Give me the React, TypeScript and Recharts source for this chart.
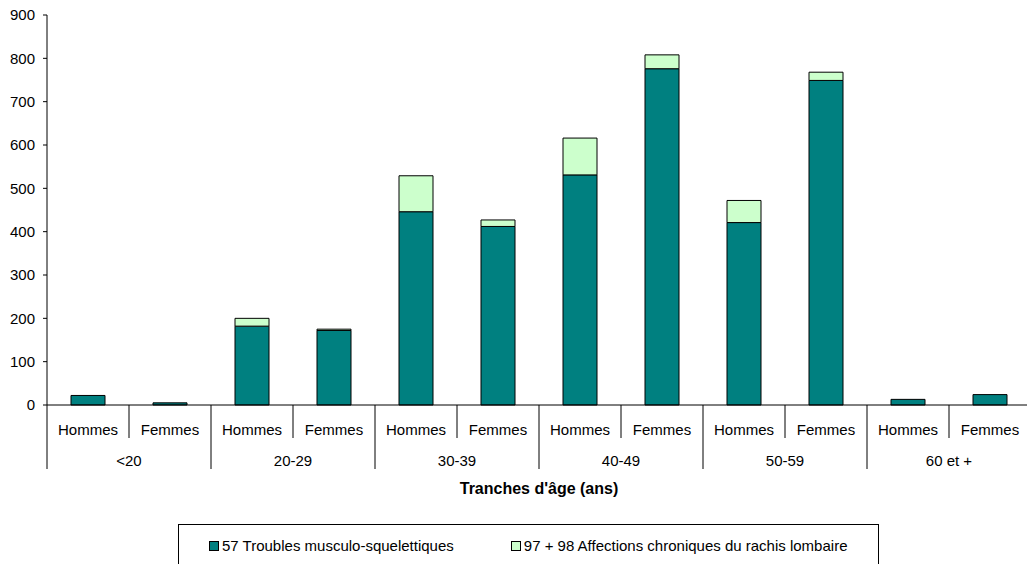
import { BarChart, Bar, XAxis, YAxis } from 'recharts'

const sexes = ['Hommes', 'Femmes', 'Hommes', 'Femmes', 'Hommes', 'Femmes', 'Hommes', 'Femmes', 'Hommes', 'Femmes', 'Hommes', 'Femmes']
const ages = ['<20', '<20', '20-29', '20-29', '30-39', '30-39', '40-49', '40-49', '50-59', '50-59', '60 et +', '60 et +']
const troubles = [22, 5, 182, 172, 446, 412, 531, 776, 421, 749, 13, 24]
const affections = [0, 0, 18, 3, 83, 15, 85, 32, 51, 19, 0, 0]
const yTicks = [0, 100, 200, 300, 400, 500, 600, 700, 800, 900]

const data = sexes.map((s, i) => ({ sexe: s, age: ages[i], troubles: troubles[i], affections: affections[i] }))

const FONT = '"Liberation Sans", Arial, sans-serif'
const CHART_W = 1040
const MARGIN = { top: 15, right: 9, bottom: 49, left: 0 }
const Y_W = 47
const BAND = (CHART_W - MARGIN.left - MARGIN.right - Y_W) / data.length
const TICK_OFFSET = 8 // default tickSize + tickMargin below the axis line

// two-level category axis: sex labels, age groups, and separators
const CategoryTick = ({ x, y, index, payload }: any) => {
  const left = x - BAND / 2
  const top = y - TICK_OFFSET
  const groupStart = index % 2 === 0
  return (
    <g>
      <line x1={left} y1={top} x2={left} y2={top + (groupStart ? 64 : 33)} stroke="#000" strokeWidth={1} />
      <text x={x} y={y + 22} textAnchor="middle" fontSize={15} fontFamily={FONT} fill="#000">
        {payload.value}
      </text>
      {groupStart && (
        <text x={x + BAND / 2} y={y + 53} textAnchor="middle" fontSize={15} fontFamily={FONT} fill="#000">
          {ages[index]}
        </text>
      )}
      {index === data.length - 1 && (
        <line x1={x + BAND / 2} y1={top} x2={x + BAND / 2} y2={top + 64} stroke="#000" strokeWidth={1} />
      )}
    </g>
  )
}

export default function App() {
  return (
    <div style={{ position: 'absolute', left: 0, top: 0, width: 1027, height: 564, overflow: 'hidden', background: '#fff', fontFamily: FONT }}>
      <BarChart width={CHART_W} height={564} data={data} margin={MARGIN} barCategoryGap={24}>
        <YAxis
          width={Y_W}
          domain={[0, 900]}
          ticks={yTicks}
          interval={0}
          axisLine={{ stroke: '#000' }}
          tickLine={{ stroke: '#000' }}
          tickSize={4}
          tickMargin={8}
          tick={{ fontSize: 15, fill: '#000', fontFamily: FONT }}
        />
        <XAxis
          dataKey="sexe"
          height={110}
          interval={0}
          axisLine={{ stroke: '#000' }}
          tickLine={false}
          tick={<CategoryTick />}
          label={{ value: "Tranches d'âge (ans)", position: 'insideBottom', offset: 21, fontSize: 16, fontWeight: 'bold', fill: '#000', fontFamily: FONT }}
        />
        <Bar dataKey="troubles" stackId="a" fill="#008080" stroke="#000" strokeWidth={1} isAnimationActive={false} />
        <Bar dataKey="affections" stackId="a" fill="#CCFFCC" stroke="#000" strokeWidth={1} isAnimationActive={false} />
      </BarChart>
      <div style={{ position: 'absolute', left: 178, top: 524, width: 701, height: 42, border: '1px solid #000', borderBottom: 'none', boxSizing: 'border-box', display: 'flex', alignItems: 'center', fontSize: 15, color: '#000' }}>
        <span style={{ display: 'inline-flex', alignItems: 'center', marginLeft: 30 }}>
          <span style={{ width: 8, height: 8, background: '#008080', border: '1px solid #000', marginRight: 3 }} />
          57 Troubles musculo-squelettiques
        </span>
        <span style={{ display: 'inline-flex', alignItems: 'center', marginLeft: 57 }}>
          <span style={{ width: 8, height: 8, background: '#CCFFCC', border: '1px solid #000', marginRight: 3 }} />
          97 + 98 Affections chroniques du rachis lombaire
        </span>
      </div>
    </div>
  )
}
